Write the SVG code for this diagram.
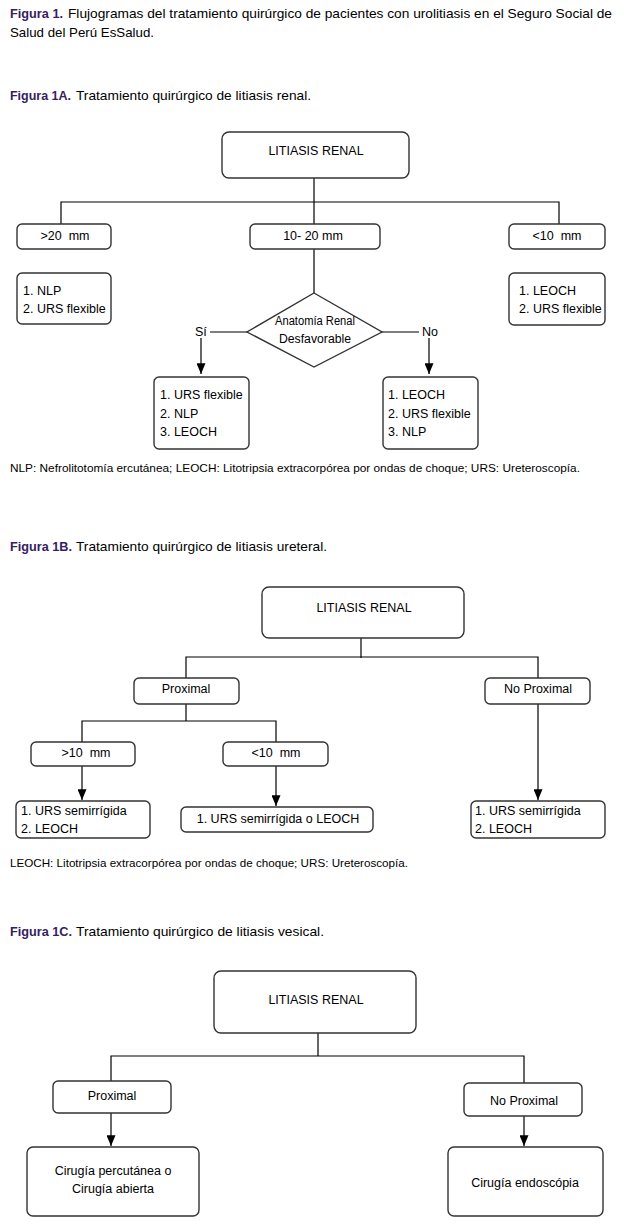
<svg xmlns="http://www.w3.org/2000/svg" width="624" height="1225" viewBox="0 0 624 1225">
<defs>
<style>
.hd{font-family:"Liberation Sans",Arial,sans-serif;font-size:13.5px;fill:#000}
.hb{font-family:"Liberation Sans",Arial,sans-serif;font-size:13.5px;font-weight:bold;fill:#35215f}
.bx{fill:#fff;stroke:#333;stroke-width:1.4}
.t{font-family:"Liberation Sans",Arial,sans-serif;font-size:12.5px;fill:#000}
.c{text-anchor:middle}
.fn{font-family:"Liberation Sans",Arial,sans-serif;font-size:10.5px;fill:#000}
.ln{fill:none;stroke:#000;stroke-width:1.2}
</style>
<marker id="arr" viewBox="0 0 12 10" refX="12" refY="5" markerWidth="12" markerHeight="9" orient="auto" markerUnits="userSpaceOnUse">
<path d="M0,0 L12,5 L0,10 z" fill="#000"/>
</marker>
</defs>
<rect width="624" height="1225" fill="#fff"/>

<g id="headings">
<text class="hb" x="10" y="17.5" textLength="53" lengthAdjust="spacingAndGlyphs">Figura 1.</text>
<text class="hd" x="68" y="17.5" textLength="544" lengthAdjust="spacingAndGlyphs">Flujogramas del tratamiento quirúrgico de pacientes con urolitiasis en el Seguro Social de</text>
<text class="hd" x="10" y="36.5" textLength="144" lengthAdjust="spacingAndGlyphs">Salud del Perú EsSalud.</text>
<text class="hb" x="10" y="100" textLength="61" lengthAdjust="spacingAndGlyphs">Figura 1A.</text>
<text class="hd" x="76" y="100" textLength="235" lengthAdjust="spacingAndGlyphs">Tratamiento quirúrgico de litiasis renal.</text>
<text class="hb" x="10" y="551" textLength="62" lengthAdjust="spacingAndGlyphs">Figura 1B.</text>
<text class="hd" x="76" y="551" textLength="251" lengthAdjust="spacingAndGlyphs">Tratamiento quirúrgico de litiasis ureteral.</text>
<text class="hb" x="10" y="936" textLength="62" lengthAdjust="spacingAndGlyphs">Figura 1C.</text>
<text class="hd" x="76" y="936" textLength="248" lengthAdjust="spacingAndGlyphs">Tratamiento quirúrgico de litiasis vesical.</text>
<text class="fn" x="10" y="472" textLength="570" lengthAdjust="spacingAndGlyphs">NLP: Nefrolitotomía ercutánea; LEOCH: Litotripsia extracorpórea por ondas de choque; URS: Ureteroscopía.</text>
<text class="fn" x="10" y="867" textLength="398" lengthAdjust="spacingAndGlyphs">LEOCH: Litotripsia extracorpórea por ondas de choque; URS: Ureteroscopía.</text>
</g>

<g id="connectors">
<!-- 1A -->
<path class="ln" d="M314,178 V224"/>
<path class="ln" d="M61,224 V202 H559 V224"/>
<path class="ln" d="M314,249 V293"/>
<path class="ln" d="M247,332 H210"/>
<path class="ln" d="M201,338 V374" marker-end="url(#arr)"/>
<path class="ln" d="M382,332 H419"/>
<path class="ln" d="M429,338 V374" marker-end="url(#arr)"/>
<text class="t" x="195" y="336">Sí</text>
<text class="t" x="422" y="336">No</text>
<!-- 1B -->
<path class="ln" d="M361,638 V658"/>
<path class="ln" d="M186,678 V657 H538 V678"/>
<path class="ln" d="M186,704 V721"/>
<path class="ln" d="M82,742 V721 H276 V742"/>
<path class="ln" d="M82,766 V800" marker-end="url(#arr)"/>
<path class="ln" d="M276,766 V806" marker-end="url(#arr)"/>
<path class="ln" d="M538,704 V800" marker-end="url(#arr)"/>
<!-- 1C -->
<path class="ln" d="M318,1033 V1056"/>
<path class="ln" d="M111,1081 V1056 H524 V1083"/>
<path class="ln" d="M111,1113 V1146" marker-end="url(#arr)"/>
<path class="ln" d="M524,1116 V1146" marker-end="url(#arr)"/>
</g>

<!-- Figure 1A nodes -->
<g id="a_root">
<rect class="bx" x="222" y="132" width="187" height="46" rx="7"/>
<text class="t c" x="316" y="155" font-size="12">LITIASIS RENAL</text>
</g>
<g id="a_gt20">
<rect class="bx" x="17" y="224" width="94" height="25" rx="5"/>
<text class="t c" x="65" y="240" xml:space="preserve">&gt;20  mm</text>
</g>
<g id="a_10_20">
<rect class="bx" x="250" y="224" width="130" height="25" rx="5"/>
<text class="t c" x="313" y="240">10- 20 mm</text>
</g>
<g id="a_lt10">
<rect class="bx" x="509" y="224" width="96" height="25" rx="5"/>
<text class="t c" x="557" y="240" xml:space="preserve">&lt;10  mm</text>
</g>
<g id="a_gt20_tx">
<rect class="bx" x="17" y="273" width="94" height="51" rx="5"/>
<text class="t" x="23" y="295">1. NLP</text>
<text class="t" x="23" y="313">2. URS flexible</text>
</g>
<g id="a_lt10_tx">
<rect class="bx" x="509" y="273" width="96" height="52" rx="5"/>
<text class="t" x="519" y="295">1. LEOCH</text>
<text class="t" x="519" y="313">2. URS flexible</text>
</g>
<g id="a_decision">
<polygon class="bx" points="314,293 382,332 314,367 247,332"/>
<text class="t c" x="315" y="325" font-size="12" textLength="80" lengthAdjust="spacingAndGlyphs">Anatomía Renal</text>
<text class="t c" x="315" y="343" font-size="12" textLength="72" lengthAdjust="spacingAndGlyphs">Desfavorable</text>
</g>
<g id="a_si">
<rect class="bx" x="154" y="377" width="95" height="72" rx="5"/>
<text class="t" x="160" y="399">1. URS flexible</text>
<text class="t" x="160" y="417.5">2. NLP</text>
<text class="t" x="160" y="435.5">3. LEOCH</text>
</g>
<g id="a_no">
<rect class="bx" x="383" y="377" width="95" height="72" rx="5"/>
<text class="t" x="388" y="399">1. LEOCH</text>
<text class="t" x="388" y="417.5">2. URS flexible</text>
<text class="t" x="388" y="435.5">3. NLP</text>
</g>

<!-- Figure 1B nodes -->
<g id="b_root">
<rect class="bx" x="262" y="587" width="202" height="51" rx="7"/>
<text class="t c" x="364" y="612" font-size="12">LITIASIS RENAL</text>
</g>
<g id="b_prox">
<rect class="bx" x="134" y="678" width="105" height="26" rx="5"/>
<text class="t c" x="186" y="693">Proximal</text>
</g>
<g id="b_noprox">
<rect class="bx" x="485" y="678" width="105" height="26" rx="5"/>
<text class="t c" x="538" y="693">No Proximal</text>
</g>
<g id="b_gt10">
<rect class="bx" x="31" y="742" width="104" height="24" rx="5"/>
<text class="t c" x="86" y="757" xml:space="preserve">&gt;10  mm</text>
</g>
<g id="b_lt10">
<rect class="bx" x="223" y="742" width="105" height="24" rx="5"/>
<text class="t c" x="276" y="757" xml:space="preserve">&lt;10  mm</text>
</g>
<g id="b_gt10_tx">
<rect class="bx" x="16" y="801" width="134" height="37" rx="5"/>
<text class="t" x="21" y="815">1. URS semirrígida</text>
<text class="t" x="21" y="833">2. LEOCH</text>
</g>
<g id="b_lt10_tx">
<rect class="bx" x="181" y="807" width="192" height="25" rx="5"/>
<text class="t c" x="278" y="823">1. URS semirrígida o LEOCH</text>
</g>
<g id="b_noprox_tx">
<rect class="bx" x="471" y="801" width="134" height="37" rx="5"/>
<text class="t" x="475" y="815">1. URS semirrígida</text>
<text class="t" x="475" y="833">2. LEOCH</text>
</g>

<!-- Figure 1C nodes -->
<g id="c_root">
<rect class="bx" x="214" y="971" width="202" height="62" rx="7"/>
<text class="t c" x="316" y="1004" font-size="12">LITIASIS RENAL</text>
</g>
<g id="c_prox">
<rect class="bx" x="53" y="1081" width="118" height="32" rx="5"/>
<text class="t c" x="112" y="1100">Proximal</text>
</g>
<g id="c_noprox">
<rect class="bx" x="464" y="1083" width="118" height="33" rx="5"/>
<text class="t c" x="524" y="1105">No Proximal</text>
</g>
<g id="c_prox_tx">
<rect class="bx" x="27" y="1147" width="172" height="69" rx="6"/>
<text class="t c" x="113" y="1175">Cirugía percutánea o</text>
<text class="t c" x="113" y="1193">Cirugía abierta</text>
</g>
<g id="c_noprox_tx">
<rect class="bx" x="448" y="1147" width="155" height="69" rx="6"/>
<text class="t c" x="525" y="1187">Cirugía endoscópia</text>
</g>
</svg>
